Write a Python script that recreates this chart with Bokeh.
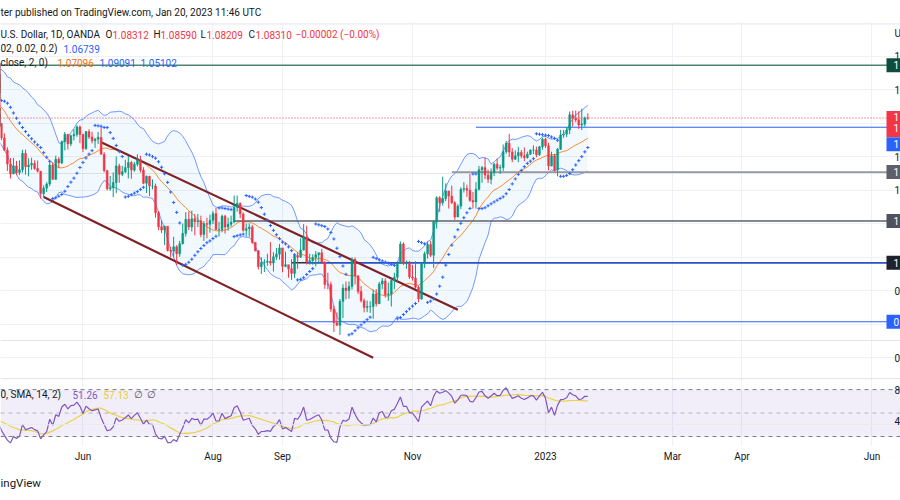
import numpy as np
import pandas as pd
from bokeh.plotting import figure
from bokeh.models import Range1d, FixedTicker, Span, BoxAnnotation, Label, Grid, Title
from bokeh.embed import file_html
from bokeh.resources import INLINE

# ---------------- data: EUR/USD daily, OANDA (high, low, close) ----------------
FIRST_DAY = "2022-03-14"
LAST_AXIS_DAY = "2023-06-30"

mar_2022 = [(1.0975, 1.0903, 1.0940), (1.0985, 1.0930, 1.0955), (1.1041, 1.0951, 1.1035),
            (1.1137, 1.1006, 1.1093), (1.1107, 1.1005, 1.1050), (1.1068, 1.0998, 1.1015),
            (1.1070, 1.0962, 1.1030), (1.1041, 1.0962, 1.1005), (1.1030, 1.0963, 1.0998),
            (1.1035, 1.0965, 1.0983), (1.0995, 1.0945, 1.0985), (1.1138, 1.0985, 1.1088),
            (1.1185, 1.1090, 1.1158), (1.1185, 1.1055, 1.1067)]
apr_2022 = [(1.1076, 1.1027, 1.1046), (1.1054, 1.0960, 1.0970), (1.0993, 1.0893, 1.0904),
            (1.0938, 1.0872, 1.0902), (1.0942, 1.0865, 1.0880), (1.0922, 1.0837, 1.0877),
            (1.0932, 1.0870, 1.0886), (1.0900, 1.0822, 1.0830), (1.0924, 1.0811, 1.0890),
            (1.0926, 1.0757, 1.0826), (1.0841, 1.0800, 1.0810), (1.0825, 1.0760, 1.0780),
            (1.0818, 1.0770, 1.0788), (1.0868, 1.0780, 1.0852), (1.0936, 1.0820, 1.0837),
            (1.0855, 1.0769, 1.0798), (1.0802, 1.0699, 1.0712), (1.0739, 1.0636, 1.0639),
            (1.0656, 1.0515, 1.0556), (1.0592, 1.0470, 1.0497), (1.0593, 1.0496, 1.0545)]
may_2022 = [(1.0575, 1.0490, 1.0506), (1.0578, 1.0492, 1.0522), (1.0641, 1.0505, 1.0620),
            (1.0642, 1.0493, 1.0540), (1.0590, 1.0483, 1.0550), (1.0594, 1.0522, 1.0560),
            (1.0578, 1.0522, 1.0530), (1.0577, 1.0506, 1.0513), (1.0515, 1.0350, 1.0380),
            (1.0429, 1.0356, 1.0412), (1.0448, 1.0389, 1.0437), (1.0564, 1.0424, 1.0550),
            (1.0567, 1.0461, 1.0465), (1.0606, 1.0461, 1.0585), (1.0598, 1.0532, 1.0563),
            (1.0697, 1.0556, 1.0690), (1.0748, 1.0638, 1.0734), (1.0733, 1.0643, 1.0677),
            (1.0732, 1.0663, 1.0725), (1.0765, 1.0697, 1.0733), (1.0787, 1.0719, 1.0778),
            (1.0786, 1.0681, 1.0733)]
jun_2022 = [(1.0737, 1.0627, 1.0648), (1.0753, 1.0641, 1.0750), (1.0764, 1.0706, 1.0718),
            (1.0749, 1.0679, 1.0695), (1.0712, 1.0653, 1.0705), (1.0748, 1.0676, 1.0716),
            (1.0774, 1.0612, 1.0615), (1.0627, 1.0507, 1.0518), (1.0517, 1.0398, 1.0408),
            (1.0485, 1.0397, 1.0415), (1.0506, 1.0359, 1.0446), (1.0601, 1.0382, 1.0545),
            (1.0558, 1.0444, 1.0495), (1.0545, 1.0484, 1.0510), (1.0582, 1.0503, 1.0535),
            (1.0605, 1.0470, 1.0565), (1.0575, 1.0468, 1.0520), (1.0569, 1.0510, 1.0555),
            (1.0615, 1.0542, 1.0584), (1.0606, 1.0505, 1.0520), (1.0537, 1.0436, 1.0442),
            (1.0488, 1.0383, 1.0483)]
jul_2022 = [(1.0486, 1.0365, 1.0425), (1.0464, 1.0405, 1.0425), (1.0440, 1.0236, 1.0265),
            (1.0276, 1.0162, 1.0182), (1.0222, 1.0144, 1.0162), (1.0188, 1.0072, 1.0185),
            (1.0154, 1.0034, 1.0040), (1.0062, 0.9999, 1.0036), (1.0122, 0.9998, 1.0062),
            (1.0072, 0.9952, 1.0020), (1.0097, 1.0002, 1.0080), (1.0200, 1.0076, 1.0142),
            (1.0269, 1.0123, 1.0226), (1.0273, 1.0162, 1.0180), (1.0278, 1.0153, 1.0230),
            (1.0257, 1.0130, 1.0212), (1.0258, 1.0180, 1.0218), (1.0248, 1.0119, 1.0135),
            (1.0216, 1.0097, 1.0200), (1.0235, 1.0113, 1.0196), (1.0254, 1.0146, 1.0220)]
aug_2022 = [(1.0275, 1.0197, 1.0260), (1.0294, 1.0162, 1.0165), (1.0212, 1.0123, 1.0165),
            (1.0254, 1.0148, 1.0245), (1.0253, 1.0141, 1.0180), (1.0236, 1.0158, 1.0196),
            (1.0248, 1.0182, 1.0210), (1.0368, 1.0203, 1.0298), (1.0368, 1.0272, 1.0322),
            (1.0327, 1.0233, 1.0258), (1.0268, 1.0152, 1.0160), (1.0201, 1.0123, 1.0170),
            (1.0202, 1.0123, 1.0180), (1.0193, 1.0080, 1.0088), (1.0089, 1.0034, 1.0038),
            (1.0043, 0.9926, 0.9943), (0.9999, 0.9900, 0.9968), (0.9988, 0.9911, 0.9970),
            (1.0020, 0.9948, 0.9975), (1.0090, 0.9950, 0.9965), (1.0030, 0.9914, 1.0002),
            (1.0055, 0.9984, 1.0018), (1.0079, 0.9985, 1.0055)]
sep_2022 = [(1.0056, 0.9910, 0.9945), (1.0033, 0.9940, 0.9955), (0.9948, 0.9877, 0.9930),
            (0.9988, 0.9864, 0.9903), (1.0012, 0.9876, 1.0010), (1.0030, 0.9930, 1.0000),
            (1.0113, 0.9998, 1.0042), (1.0198, 1.0040, 1.0120), (1.0188, 0.9956, 0.9972),
            (1.0020, 0.9955, 0.9980), (1.0017, 0.9955, 0.9998), (1.0036, 0.9945, 1.0015),
            (1.0028, 0.9966, 1.0026), (1.0050, 0.9960, 0.9970), (0.9975, 0.9810, 0.9837),
            (0.9907, 0.9808, 0.9836), (0.9853, 0.9673, 0.9690), (0.9710, 0.9553, 0.9608),
            (0.9670, 0.9590, 0.9593), (0.9750, 0.9536, 0.9736), (0.9838, 0.9636, 0.9815),
            (0.9854, 0.9748, 0.9801)]
oct_2022 = [(0.9855, 0.9752, 0.9825), (0.9999, 0.9807, 0.9986), (0.9998, 0.9836, 0.9887),
            (0.9894, 0.9780, 0.9795), (0.9827, 0.9729, 0.9740), (0.9753, 0.9670, 0.9700),
            (0.9741, 0.9671, 0.9705), (0.9737, 0.9667, 0.9705), (0.9807, 0.9632, 0.9780),
            (0.9809, 0.9705, 0.9722), (0.9852, 0.9720, 0.9840), (0.9876, 0.9808, 0.9858),
            (0.9874, 0.9758, 0.9775), (0.9848, 0.9739, 0.9780), (0.9871, 0.9705, 0.9860),
            (0.9907, 0.9808, 0.9880), (0.9975, 0.9846, 0.9965), (1.0094, 0.9962, 1.0078),
            (1.0090, 0.9953, 0.9965), (0.9980, 0.9930, 0.9965), (0.9978, 0.9870, 0.9882)]
nov_2022 = [(0.9954, 0.9860, 0.9875), (0.9976, 0.9811, 0.9820), (0.9830, 0.9730, 0.9750),
            (0.9965, 0.9746, 0.9960), (1.0033, 0.9935, 1.0020), (1.0093, 0.9992, 1.0075),
            (1.0096, 1.0001, 1.0012), (1.0222, 0.9936, 1.0210), (1.0364, 1.0170, 1.0355),
            (1.0365, 1.0271, 1.0325), (1.0481, 1.0308, 1.0350), (1.0441, 1.0335, 1.0395),
            (1.0396, 1.0290, 1.0365), (1.0427, 1.0318, 1.0325), (1.0334, 1.0223, 1.0240),
            (1.0316, 1.0239, 1.0305), (1.0417, 1.0287, 1.0405), (1.0448, 1.0386, 1.0410),
            (1.0433, 1.0360, 1.0400), (1.0497, 1.0331, 1.0338), (1.0389, 1.0290, 1.0330),
            (1.0448, 1.0290, 1.0405)]
dec_2022 = [(1.0545, 1.0398, 1.0522), (1.0545, 1.0444, 1.0535), (1.0595, 1.0466, 1.0490),
            (1.0522, 1.0443, 1.0465), (1.0530, 1.0436, 1.0505), (1.0563, 1.0485, 1.0555),
            (1.0589, 1.0519, 1.0532), (1.0553, 1.0497, 1.0535), (1.0673, 1.0515, 1.0630),
            (1.0695, 1.0617, 1.0680), (1.0737, 1.0598, 1.0628), (1.0651, 1.0567, 1.0585),
            (1.0638, 1.0580, 1.0605), (1.0659, 1.0567, 1.0625), (1.0640, 1.0590, 1.0605),
            (1.0656, 1.0573, 1.0595), (1.0630, 1.0588, 1.0615), (1.0643, 1.0610, 1.0640),
            (1.0668, 1.0615, 1.0640), (1.0660, 1.0597, 1.0612), (1.0665, 1.0605, 1.0660),
            (1.0713, 1.0642, 1.0705)]
jan_2023 = [(1.0713, 1.0652, 1.0665), (1.0683, 1.0519, 1.0545), (1.0630, 1.0542, 1.0605),
            (1.0617, 1.0512, 1.0520), (1.0652, 1.0483, 1.0645), (1.0760, 1.0640, 1.0730),
            (1.0760, 1.0713, 1.0735), (1.0776, 1.0717, 1.0760), (1.0870, 1.0735, 1.0850),
            (1.0875, 1.0780, 1.0830), (1.0875, 1.0806, 1.0820), (1.0871, 1.0766, 1.0790),
            (1.0887, 1.0760, 1.0795), (1.0840, 1.0780, 1.08312), (1.08590, 1.08209, 1.08310)]

# time-axis labels (month, text)
tick_months = [("2022-06", "Jun"), ("2022-08", "Aug"), ("2022-09", "Sep"), ("2022-11", "Nov"),
               ("2023-01", "2023"), ("2023-03", "Mar"), ("2023-04", "Apr"), ("2023-06", "Jun")]

# drawn horizontal levels (price, first day)
level_prices = [1.1146, 1.0776, 1.0508, 1.0216, 0.9966, 0.9966, 0.9614]
level_starts = ["2022-03-14", "2022-11-30", "2022-11-18", "2022-08-10", "2022-09-06", "2022-09-13", "2022-09-09"]
# descending channel (date, price) pairs
channel_upper = [("2022-06-09", 1.0687), ("2022-11-22", 0.9686)]
channel_lower = [("2022-05-13", 1.0359), ("2022-10-13", 0.9399)]
# price-scale grid and its (cut-off) labels as seen on the right edge
price_ticks = [0.94, 0.96, 0.98, 1.00, 1.02, 1.04, 1.06, 1.08, 1.10, 1.12]
price_tick_texts = ["0", "0", "0", "1", "1", "1", "1", "1", "1", "1"]
price_box_values = [1.1146, 1.0831, 1.06739, 1.0508, 1.0216, 0.9966, 0.9614]
price_box_texts = ["1", "1\n1", "1", "1", "1", "1", "0"]
rsi_levels = [30, 50, 70]
rsi_grid = [40]

BB_LEN, BB_MULT = 20, 2.0
SAR_START, SAR_INC, SAR_MAX = 0.02, 0.02, 0.2
RSI_LEN, RSI_MA_LEN = 14, 14

# ---------------- series ----------------
bars = mar_2022 + apr_2022 + may_2022 + jun_2022 + jul_2022 + aug_2022 + sep_2022 + \
    oct_2022 + nov_2022 + dec_2022 + jan_2023
high = np.array([b[0] for b in bars])
low = np.array([b[1] for b in bars])
close = np.array([b[2] for b in bars])
opn = np.concatenate([[close[0]], close[:-1]])
N = len(close)

all_days = pd.bdate_range(FIRST_DAY, LAST_AXIS_DAY)
pos = {d.strftime("%Y-%m-%d"): i for i, d in enumerate(all_days)}
idx = np.arange(N)


def bar(d):
    return pos[d]


s = pd.Series(close)
basis = s.rolling(BB_LEN).mean().to_numpy()
dev = s.rolling(BB_LEN).std(ddof=0).to_numpy()
upper = basis + BB_MULT * dev
lower = basis - BB_MULT * dev


def rma(x, n):
    out = np.full(len(x), np.nan)
    start = None
    for i in range(len(x)):
        if np.isnan(x[i]):
            continue
        if start is None:
            start = i
        k = i - start + 1
        if k < n:
            continue
        if k == n:
            out[i] = np.mean(x[start:i + 1])
        else:
            out[i] = (out[i - 1] * (n - 1) + x[i]) / n
    return out


delta = np.concatenate([[np.nan], np.diff(close)])
up = np.where(np.isnan(delta), np.nan, np.maximum(delta, 0))
dn = np.where(np.isnan(delta), np.nan, np.maximum(-delta, 0))
ru, rd = rma(up, RSI_LEN), rma(dn, RSI_LEN)
rsi = 100 - 100 / (1 + ru / rd)
rsi_ma = pd.Series(rsi).rolling(RSI_MA_LEN).mean().to_numpy()


def tv_sar(h, l, c, start, inc, mx):
    n = len(c)
    out = np.full(n, np.nan)
    result = maxmin = acc = 0.0
    below = True
    for i in range(1, n):
        first = False
        if i == 1:
            if c[1] > c[0]:
                below, maxmin, result = True, h[1], l[0]
            else:
                below, maxmin, result = False, l[1], h[0]
            first = True
            acc = start
        result = result + acc * (maxmin - result)
        if below:
            if result > l[i]:
                first, below = True, False
                result = max(h[i], maxmin)
                maxmin, acc = l[i], start
        else:
            if result < h[i]:
                first, below = True, True
                result = min(l[i], maxmin)
                maxmin, acc = h[i], start
        if not first:
            if below and h[i] > maxmin:
                maxmin, acc = h[i], min(acc + inc, mx)
            elif (not below) and l[i] < maxmin:
                maxmin, acc = l[i], min(acc + inc, mx)
        if below:
            result = min(result, l[i - 1])
            if i > 1:
                result = min(result, l[i - 2])
        else:
            result = max(result, h[i - 1])
            if i > 1:
                result = max(result, h[i - 2])
        out[i] = result
    return out


sar = tv_sar(high, low, close, SAR_START, SAR_INC, SAR_MAX)

# ---------------- layout geometry ----------------
W, H = 900, 498
FRAME_H = 447                       # frame spans page y 0..447
BOTTOM = H - FRAME_H
PX_BAR = 3.023
PX_PRICE = 0.000596                 # price per pixel
PX_RSI = 1.175                      # pixels per RSI point
y_top = 1.08 + 123 * PX_PRICE       # 1.08 sits at page y 123
y_bot = y_top - FRAME_H * PX_PRICE
r_top = 70 + 390 / PX_RSI           # RSI 70 sits at page y 390
r_bot = r_top - FRAME_H / PX_RSI
i_jan = bar("2023-01-02")
x0 = i_jan - 545 / PX_BAR           # 2 Jan 2023 sits at page x 545
x1 = x0 + W / PX_BAR

FONT = "Roboto"
FS = "10px"
DARK = "#131722"
UP, DOWN = "#089981", "#F23645"
BLUE, ORANGE = "#2962FF", "#FF6D00"
GRID = "#EFF1F6"
BORDER = "#E0E3EB"

p = figure(width=W, height=H, x_range=Range1d(x0, x1), y_range=Range1d(y_bot, y_top),
           output_backend="svg", toolbar_location=None, y_axis_location=None,
           min_border_left=0, min_border_right=0, min_border_top=0, min_border_bottom=BOTTOM,
           outline_line_color=None, background_fill_color="white", border_fill_color="white")
p.extra_y_ranges = {"rsi": Range1d(r_bot, r_top)}

# grids
tick_idx = [bar(all_days[all_days.strftime("%Y-%m") == m][0].strftime("%Y-%m-%d")) for m, _ in tick_months]
p.xgrid.ticker = FixedTicker(ticks=tick_idx)
p.xgrid.grid_line_color = GRID
p.add_layout(Grid(dimension=1, ticker=FixedTicker(ticks=price_ticks), grid_line_color=GRID))

ax = p.xaxis[0]
ax.ticker = FixedTicker(ticks=tick_idx)
ax.major_label_overrides = {t: lab for t, (_, lab) in zip(tick_idx, tick_months)}
ax.axis_line_color = None
ax.major_tick_line_color = None
ax.minor_tick_line_color = None
ax.major_tick_out = 0
ax.major_tick_in = 0
ax.major_label_standoff = 4
ax.major_label_text_font = FONT
ax.major_label_text_font_size = FS
ax.major_label_text_color = DARK

# white header strip above the main pane and pane borders
p.add_layout(BoxAnnotation(bottom=1.08 + 100 * PX_PRICE, fill_color="white", fill_alpha=1.0, line_color=None))
p.add_layout(Span(location=1.08 + 99.5 * PX_PRICE, dimension="width", line_color=BORDER, line_width=1))
p.add_layout(Span(location=70 + 11 / PX_RSI, dimension="width", y_range_name="rsi", line_color=BORDER, line_width=1))

# Bollinger band fill + lines
p.varea(x=idx, y1=lower, y2=upper, fill_color="#2196F3", fill_alpha=0.06)
p.line(idx, upper, line_color=BLUE, line_width=1, line_alpha=0.65)
p.line(idx, lower, line_color=BLUE, line_width=1, line_alpha=0.65)
p.line(idx, basis, line_color=ORANGE, line_width=1, line_alpha=0.8)

# horizontal levels
lv_colors = ["#4C8571", BLUE, "#9598A1", "#5D606B", "#2A2E39", BLUE, BLUE]
lv_widths = [1.5, 1.2, 1.8, 1.5, 1.5, 1.2, 1.2]
for pr, st, col, wd in zip(level_prices, level_starts, lv_colors, lv_widths):
    p.ray(x=[bar(st)], y=[pr], length=0, angle=0, line_color=col, line_width=wd)

# current price
p.add_layout(Span(location=close[-1], dimension="width", line_color=DOWN, line_dash="1 2", line_width=1))

# channel
for seg in (channel_upper, channel_lower):
    p.line([bar(seg[0][0]), bar(seg[1][0])], [seg[0][1], seg[1][1]], line_color="#7E2226", line_width=2.2)

# candles
cols = np.where(close >= opn, UP, DOWN)
p.segment(idx, high, idx, low, line_color=cols, line_width=1)
p.vbar(x=idx, width=0.62, top=np.maximum(opn, close), bottom=np.minimum(opn, close),
       fill_color=cols, line_color=cols, line_width=0.5)

# SAR
p.scatter(idx, sar, marker="cross", size=3.2, line_color=BLUE, line_width=1)

# RSI pane
p.add_layout(BoxAnnotation(bottom=rsi_levels[0], top=rsi_levels[2], y_range_name="rsi",
                           fill_color="#7E57C2", fill_alpha=0.1, line_color=None))
for g in rsi_grid:
    p.add_layout(Span(location=g, dimension="width", y_range_name="rsi", line_color=GRID, line_width=1))
for lv, alpha in zip(rsi_levels, (1.0, 0.5, 1.0)):
    p.add_layout(Span(location=lv, dimension="width", y_range_name="rsi", line_color="#787B86",
                      line_alpha=alpha, line_dash="4 4", line_width=1))
p.line(idx, rsi_ma, y_range_name="rsi", line_color="#F5E23A", line_width=1.2)
p.line(idx, rsi, y_range_name="rsi", line_color="#7E57C2", line_width=1.2)


# ---------------- texts ----------------
def txt(x, y, s, color=DARK, size=FS, **kw):
    p.add_layout(Label(x=x, y=y, x_units="screen", y_units="screen", text=s, text_color=color,
                       text_font=FONT, text_font_size=size, text_baseline="middle", **kw))


# screen y measured up from the frame bottom (page y 447)
txt(0, 434, "ter published on TradingView.com, Jan 20, 2023 11:46 UTC")
L1, L2, L3, LR = 412, 398, 384, 52
txt(0, L1, "U.S. Dollar, 1D, OANDA")
for xl, letter, xv, val in ((105, "O", 112, "1.08312"), (153, "H", 160, "1.08590"),
                            (200, "L", 206, "1.08209"), (248, "C", 255, "1.08310")):
    txt(xl, L1, letter)
    txt(xv, L1, val, DOWN)
txt(295, L1, "\u22120.00002 (\u22120.00%)", DOWN)
txt(0, L2, "02, 0.02, 0.2)")
txt(63, L2, "1.06739", BLUE)
txt(0, L3, "close, 2, 0)")
txt(57, L3, "1.07096", ORANGE)
txt(99, L3, "1.09091", BLUE)
txt(140, L3, "1.05102", BLUE)
txt(0, LR, "0, SMA, 14, 2)")
txt(72, LR, "51.26", "#7E57C2")
txt(103, LR, "57.13", "#E6CF2E")
txt(133, LR, "\u2205", "#50535E")
txt(146, LR, "\u2205", "#50535E")
txt(894, 413, "U")
txt(894, 57, "8")
txt(894, 26, "4")

# price scale labels, cut at the right edge like the reference
for t, tx in zip(price_ticks, price_tick_texts):
    if t in (0.96, 1.00, 1.08):
        continue  # hidden under the coloured price boxes
    p.add_layout(Label(x=894, x_units="screen", y=t, text=tx, text_color=DARK,
                       text_font=FONT, text_font_size=FS, text_baseline="middle"))

box_colors = ["#0E4D3D", DOWN, BLUE, "#5D606B", "#50535E", "#1E222D", BLUE]
box_px = [(7, 7), (7, 19), (7, 7), (7, 7), (7, 7), (7, 7), (7, 7)]   # px above / below the value
for pr, tx, bc, (pu, pd_) in zip(price_box_values, price_box_texts, box_colors, box_px):
    p.add_layout(BoxAnnotation(left=886, right=W, left_units="screen", right_units="screen",
                               top=pr + pu * PX_PRICE, bottom=pr - pd_ * PX_PRICE,
                               fill_color=bc, fill_alpha=1.0, line_color=None))
    p.add_layout(Label(x=893, x_units="screen", y=pr + (0 if pd_ == 7 else -5 * PX_PRICE),
                       text=tx, text_color="white", text_font=FONT, text_font_size=FS,
                       text_baseline="middle", text_line_height=1.0))

p.add_layout(Title(text="ingView", align="left", text_font=FONT, text_font_size="11.5px",
                   text_font_style="normal", text_color=DARK, standoff=18, offset=0), "below")

open("out.html", "w").write(file_html(p, INLINE))
